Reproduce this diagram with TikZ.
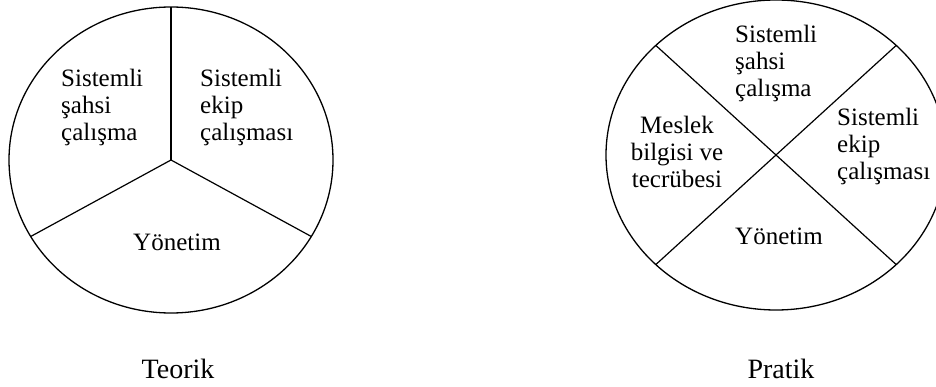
\documentclass[tikz,border=0pt]{standalone}
\usepackage{fontspec}
\setmainfont{Liberation Serif}
\begin{document}
\begin{tikzpicture}[x=1pt,y=-1pt,
  rim/.style={line width=1.3pt},
  spoke/.style={line width=1.2pt},
  inner/.style={font=\fontsize{25}{27}\selectfont, inner sep=0pt, align=left, anchor=north west},
  caption/.style={font=\fontsize{28}{30}\selectfont, inner sep=0pt, anchor=base}]
\useasboundingbox (0,0) rectangle (936,387);
\clip (0,0) rectangle (936,387);
% Teorik
\coordinate (Lc) at (171,160);
\draw[rim] (Lc) ellipse [x radius=162, y radius=153];
\draw[spoke] (Lc) -- ++(270:162 and 153) coordinate (Lt);
\draw[spoke] (Lc) -- ++(30:162 and 153) coordinate (Lr);
\draw[spoke] (Lc) -- ++(150:162 and 153) coordinate (Ll);
\node[inner] (l1) at (61,69) {Sistemli\\şahsi\\çalışma};
\node[inner] (l2) at (200,69) {Sistemli\\ekip\\çalışması};
\node[inner] (l3) at (133,234) {Yönetim};
\node[caption] (teorik) at (178,378) {Teorik};
% Pratik
\coordinate (Rc) at (776,155);
\draw[rim] (Rc) ellipse [x radius=170, y radius=155];
\draw[spoke] (Rc) ++(225:170 and 155) coordinate (Rul) -- (Rc) -- ++(45:170 and 155) coordinate (Rlr);
\draw[spoke] (Rc) ++(315:170 and 155) coordinate (Rur) -- (Rc) -- ++(135:170 and 155) coordinate (Rll);
\node[inner] (r1) at (735,25) {Sistemli\\şahsi\\çalışma};
\node[inner, align=center, anchor=north] (r2) at (677,116) {Meslek\\bilgisi ve\\tecrübesi};
\node[inner] (r3) at (837,108) {Sistemli\\ekip\\çalışması};
\node[inner] (r4) at (735,228) {Yönetim};
\node[caption] (pratik) at (781,378) {Pratik};
\end{tikzpicture}
\end{document}
